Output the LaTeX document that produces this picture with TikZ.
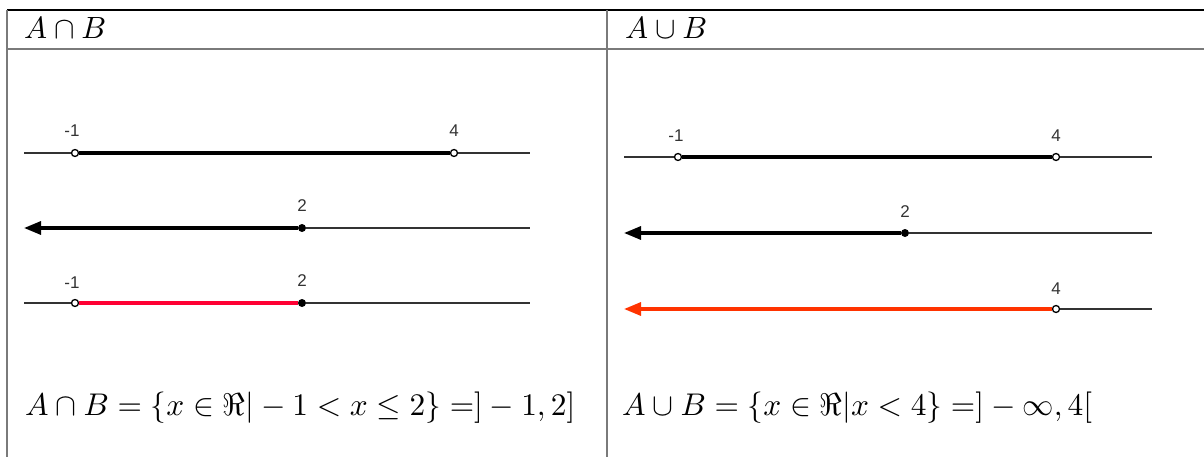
\documentclass[tikz,border=0pt]{standalone}
\usepackage{fontspec}
\newfontfamily\labfont{Liberation Sans}
\usetikzlibrary{arrows.meta}
\definecolor{gridc}{HTML}{7A7A7A}
\definecolor{axisc}{HTML}{333333}
\definecolor{redA}{HTML}{FF0033}
\definecolor{redB}{HTML}{FF3300}
\newsavebox\fboxA
\newsavebox\fboxB
\AtBeginDocument{%
  \sbox\fboxA{$A\cap B=\{x\in\Re|-1<x\leq 2\}=]-1,2]$}%
  \sbox\fboxB{$A\cup B=\{x\in\Re|x<4\}=]-\infty,4[$}%
}
\tikzset{
  frame/.style={line width=1.3pt, draw=gridc},
  topframe/.style={line width=1.5pt, draw=black},
  axis/.style={line width=1.2pt, draw=axisc},
  thick seg/.style={line width=3.2pt, draw=black},
  red seg/.style={line width=3.2pt},
  opendot/.style={circle, draw=black, fill=white, line width=1.3pt, minimum size=7pt, inner sep=0pt},
  fulldot/.style={circle, fill=black, minimum size=8pt, inner sep=0pt},
  numlab/.style={font=\labfont\fontsize{17}{19}\selectfont, text=axisc, inner sep=0pt},
  tarrow/.style={-{Triangle[length=17pt,width=13pt]}},
  hdr/.style={anchor=west, inner sep=0pt},
  formula/.style={anchor=west, inner sep=0pt},
}
\begin{document}
\begin{tikzpicture}[x=1pt,y=-1pt]
\useasboundingbox (0,0) rectangle (1204,457);
% table frame
\coordinate (tl) at (7,10);
\coordinate (tr) at (1204,10);
\coordinate (hl) at (7,49);
\coordinate (hr) at (1204,49);
\coordinate (bl) at (7,457);
\coordinate (tm) at (607,10);
\coordinate (bm) at (607,457);
\draw[topframe] (tl) -- (tr);
\draw[frame, line width=2pt] (hl) -- (hr);
\draw[frame] (tl) -- (bl);
\draw[frame] (tm) -- (bm);
% headers
\node[hdr] (h1) at (24,28) {\resizebox{82pt}{!}{$A\cap B$}};
\node[hdr] (h2) at (625,28) {\resizebox{82pt}{!}{$A\cup B$}};

% ---------- left panel ----------
% line 1
\coordinate (L1s) at (24,153);
\coordinate (L1e) at (530,153);
\node[opendot] (L1a) at (75,153) {};
\node[opendot] (L1b) at (454,153) {};
\draw[axis] (L1s) -- (L1a);
\draw[axis] (L1b) -- (L1e);
\draw[thick seg] (L1a) -- (L1b);
\node[numlab] (l1a) at (72,131) {-1};
\node[numlab] (l1b) at (454,131) {4};
% line 2
\coordinate (L2s) at (24,228);
\coordinate (L2e) at (530,228);
\node[fulldot] (L2a) at (302,228) {};
\draw[axis] (L2a) -- (L2e);
\draw[thick seg, tarrow] (L2a) -- (L2s);
\node[numlab] (l2a) at (302,206) {2};
% line 3
\coordinate (L3s) at (24,303);
\coordinate (L3e) at (530,303);
\node[opendot] (L3a) at (75,303) {};
\node[fulldot] (L3b) at (302,303) {};
\draw[axis] (L3s) -- (L3a);
\draw[axis] (L3b) -- (L3e);
\draw[red seg, draw=redA] (L3a) -- (L3b);
\node[numlab] (l3a) at (72,283) {-1};
\node[numlab] (l3b) at (302,281) {2};
% formula
\node[formula] (f1) at (25,408) {\resizebox{550pt}{!}{\usebox\fboxA}};

% ---------- right panel ----------
% line 1
\coordinate (R1s) at (624,157);
\coordinate (R1e) at (1152,157);
\node[opendot] (R1a) at (678,157) {};
\node[opendot] (R1b) at (1056,157) {};
\draw[axis] (R1s) -- (R1a);
\draw[axis] (R1b) -- (R1e);
\draw[thick seg] (R1a) -- (R1b);
\node[numlab] (r1a) at (676,136) {-1};
\node[numlab] (r1b) at (1056,136) {4};
% line 2
\coordinate (R2s) at (624,233);
\coordinate (R2e) at (1152,233);
\node[fulldot] (R2a) at (905,233) {};
\draw[axis] (R2a) -- (R2e);
\draw[thick seg, tarrow] (R2a) -- (R2s);
\node[numlab] (r2a) at (905,212) {2};
% line 3
\coordinate (R3s) at (624,309);
\coordinate (R3e) at (1152,309);
\node[opendot] (R3a) at (1056,309) {};
\draw[axis] (R3a) -- (R3e);
\draw[red seg, draw=redB, -{Triangle[length=17pt,width=13pt,fill=redB]}] (R3a) -- (R3s);
\node[numlab] (r3a) at (1056,289) {4};
% formula
\node[formula] (f2) at (622,408) {\resizebox{\dimexpr 550pt*\wd\fboxB/\wd\fboxA\relax}{!}{\usebox\fboxB}};
\end{tikzpicture}
\end{document}
